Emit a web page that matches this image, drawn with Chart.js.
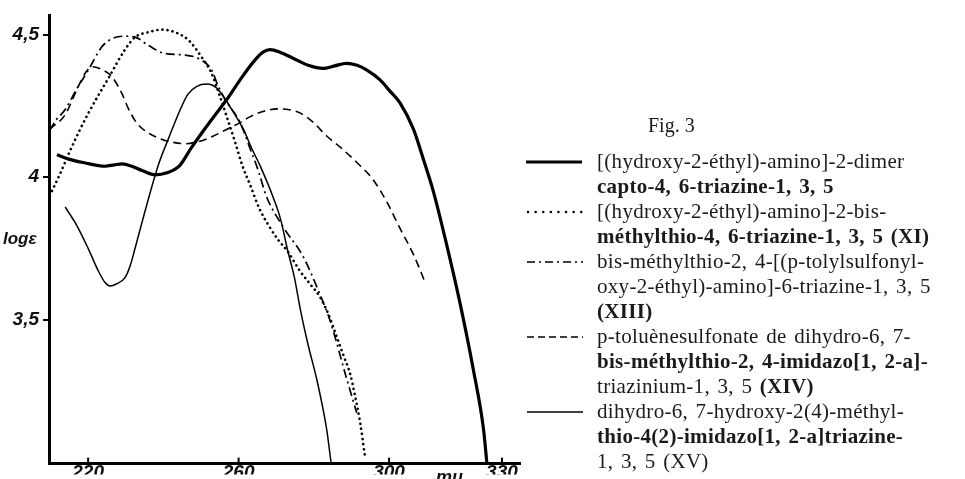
<!DOCTYPE html>
<html><head><meta charset="utf-8">
<script src="https://cdn.jsdelivr.net/npm/chart.js@4.4.1/dist/chart.umd.min.js"></script>
<style>
html,body{margin:0;padding:0;background:#fff;overflow:hidden;width:965px;height:479px;}
#wrap{position:relative;width:965px;height:479px;overflow:hidden;}
#c{position:absolute;left:0;top:0;}
.ax{position:absolute;font-family:"Liberation Sans",Arial,sans-serif;font-style:italic;font-weight:bold;color:#111;white-space:nowrap;}
.leg{position:absolute;left:597px;top:149px;font-family:"Liberation Serif","Times New Roman",serif;font-size:21px;line-height:25px;color:#1a1a1a;white-space:nowrap;letter-spacing:0.3px;word-spacing:2px;}
.leg div{height:25px;}
.b{font-weight:bold;}
#fig{position:absolute;left:648px;top:114px;font-family:"Liberation Serif",serif;font-size:20px;color:#1a1a1a;}
#samples{position:absolute;left:0;top:0;}
</style></head>
<body><div id="wrap">
<canvas id="c" width="965" height="479"></canvas>
<div class="ax" style="left:3px;top:229px;font-size:17px;">logε</div>
<div class="ax" style="left:436px;top:467px;font-size:18px;">mμ</div>
<div id="fig">Fig. 3</div>
<svg id="samples" width="965" height="479">
  <line x1="526" y1="162" x2="582" y2="162" stroke="#000" stroke-width="3.2"/>
  <line x1="528" y1="212" x2="582" y2="212" stroke="#000" stroke-width="2.4" stroke-dasharray="0.1 7.5" stroke-linecap="round"/>
  <line x1="527" y1="262" x2="583" y2="262" stroke="#000" stroke-width="1.6" stroke-dasharray="8 4 2 4"/>
  <line x1="527" y1="337" x2="583" y2="337" stroke="#000" stroke-width="1.5" stroke-dasharray="7 4"/>
  <line x1="527" y1="412" x2="583" y2="412" stroke="#000" stroke-width="1.4"/>
</svg>
<div class="leg">
  <div>[(hydroxy-2-éthyl)-amino]-2-dimer</div>
  <div class="b">capto-4, 6-triazine-1, 3, 5</div>
  <div>[(hydroxy-2-éthyl)-amino]-2-bis-</div>
  <div class="b">méthylthio-4, 6-triazine-1, 3, 5 (XI)</div>
  <div>bis-méthylthio-2, 4-[(p-tolylsulfonyl-</div>
  <div>oxy-2-éthyl)-amino]-6-triazine-1, 3, 5</div>
  <div class="b">(XIII)</div>
  <div>p-toluènesulfonate de dihydro-6, 7-</div>
  <div class="b">bis-méthylthio-2, 4-imidazo[1, 2-a]-</div>
  <div>triazinium-1, 3, 5 <span class="b">(XIV)</span></div>
  <div>dihydro-6, 7-hydroxy-2(4)-méthyl-</div>
  <div class="b">thio-4(2)-imidazo[1, 2-a]triazine-</div>
  <div>1, 3, 5 (XV)</div>
</div>
</div>
<script>
// Axis tick values and labels
const xTickValues = [220, 260, 300, 330];
const xTickLabels = ['220', '260', '300', '330'];
const yTickValues = [3.5, 4, 4.5];
const yTickLabels = ['3,5', '4', '4,5'];

// Series 1: [(hydroxy-2-éthyl)-amino]-2-dimercapto-4,6-triazine-1,3,5 (thick solid)
const wlDimercapto = [211.7, 214.8, 219, 224.5, 227, 229, 231.2, 234.5, 237.8, 241, 244.2, 247.5, 250.5, 253.3, 256.8, 260.4, 264, 266.5, 268.4, 271, 274.6, 278.5, 282.5, 285.5, 288.7, 291.5, 294, 297.6, 300, 302.9, 306.5, 309.1, 311.8, 315.3, 318.9, 322.4, 325.1, 326];
const logDimercapto = [4.078, 4.063, 4.05, 4.038, 4.043, 4.046, 4.040, 4.022, 4.008, 4.015, 4.038, 4.104, 4.16, 4.21, 4.271, 4.341, 4.405, 4.438, 4.447, 4.438, 4.416, 4.392, 4.381, 4.39, 4.399, 4.392, 4.376, 4.341, 4.305, 4.26, 4.167, 4.063, 3.948, 3.763, 3.555, 3.324, 3.116, 2.996];

// Series 2: (XI) dotted
const wlXI = [209.8, 212.5, 215.6, 220.1, 225.4, 229.8, 232.5, 236.0, 239.6, 243.1, 246.7, 250.1, 252.8, 254.6, 256.8, 259.1, 261.0, 263.1, 265.5, 268.0, 270.5, 273.0, 276.3, 279.0, 281.7, 284.0, 286.1, 288.0, 289.6, 291.0, 292.3, 293.6];
const logXI = [3.935, 4.01, 4.104, 4.225, 4.347, 4.447, 4.491, 4.508, 4.517, 4.508, 4.48, 4.422, 4.364, 4.3, 4.214, 4.121, 4.04, 3.971, 3.89, 3.83, 3.78, 3.74, 3.671, 3.625, 3.578, 3.515, 3.439, 3.37, 3.312, 3.23, 3.139, 3.02];

// Series 3: (XIII) dash-dot
const wlXIII = [209.7, 211.5, 213.9, 217, 220.1, 223.6, 226.3, 229.8, 232.5, 236.0, 240.5, 245.8, 250.2, 252.8, 254.6, 256.4, 260.4, 263.1, 265.3, 267.3, 271.8, 277.2, 281.6, 284.3, 288.8, 291.4];
const logXIII = [4.162, 4.2, 4.237, 4.31, 4.376, 4.456, 4.485, 4.494, 4.491, 4.462, 4.433, 4.428, 4.41, 4.376, 4.318, 4.272, 4.191, 4.098, 4.02, 3.935, 3.826, 3.72, 3.589, 3.497, 3.289, 3.173];

// Series 4: (XIV) dashed
const wlXIV = [209.7, 213.9, 217.4, 219.5, 221.0, 223.5, 226.3, 228.9, 230.7, 232.9, 236.0, 239.5, 242.5, 245.8, 249.5, 253.3, 256.8, 260.4, 263.1, 266.5, 270.2, 273.5, 276.3, 280.0, 283.4, 287.0, 291.5, 295.8, 299.5, 302.9, 306.5, 309.6];
const logXIV = [4.167, 4.219, 4.318, 4.37, 4.387, 4.378, 4.352, 4.295, 4.24, 4.19, 4.155, 4.133, 4.122, 4.117, 4.125, 4.144, 4.167, 4.191, 4.212, 4.23, 4.239, 4.236, 4.225, 4.19, 4.144, 4.105, 4.05, 3.99, 3.91, 3.82, 3.728, 3.63];

// Series 5: (XV) thin solid
const wlXV = [213.9, 217, 220, 222.7, 224.5, 225.8, 227.5, 229.8, 231.2, 232.5, 235.1, 238.6, 241.3, 244.5, 246.5, 248.9, 251.5, 254.2, 256.8, 258.5, 261.3, 263.5, 265.7, 269.3, 271.2, 273.0, 274.8, 276.5, 278.5, 280.8, 283.4, 284.6];
const logXV = [3.895, 3.83, 3.75, 3.671, 3.63, 3.618, 3.625, 3.647, 3.69, 3.751, 3.879, 4.04, 4.133, 4.237, 4.29, 4.318, 4.326, 4.312, 4.266, 4.23, 4.167, 4.1, 4.04, 3.925, 3.85, 3.745, 3.65, 3.53, 3.41, 3.289, 3.116, 2.996];

const pts = (xs, ys) => xs.map((x, i) => ({x: x, y: ys[i]}));
const base = {borderColor: '#000', backgroundColor: '#000', pointRadius: 0, fill: false, cubicInterpolationMode: 'monotone', borderJoinStyle: 'round'};

const inwardTicks = {
  id: 'inwardTicks',
  afterDraw(chart) {
    const {ctx, scales: {x, y}} = chart;
    ctx.save();
    ctx.strokeStyle = '#000';
    ctx.lineWidth = 2;
    xTickValues.forEach(v => {
      const px = x.getPixelForValue(v);
      ctx.beginPath(); ctx.moveTo(px, y.bottom); ctx.lineTo(px, y.bottom - 6); ctx.stroke();
    });
    ctx.restore();
  }
};

new Chart(document.getElementById('c').getContext('2d'), {
  type: 'line',
  data: {datasets: [
    Object.assign({}, base, {label: 'dimercapto', data: pts(wlDimercapto, logDimercapto), borderWidth: 3.2}),
    Object.assign({}, base, {label: 'XI', data: pts(wlXI, logXI), borderWidth: 2.6, borderDash: [0.1, 5], borderCapStyle: 'round'}),
    Object.assign({}, base, {label: 'XIII', data: pts(wlXIII, logXIII), borderWidth: 1.7, borderDash: [9, 4, 2, 4]}),
    Object.assign({}, base, {label: 'XIV', data: pts(wlXIV, logXIV), borderWidth: 1.6, borderDash: [8, 5]}),
    Object.assign({}, base, {label: 'XV', data: pts(wlXV, logXV), borderWidth: 1.5})
  ]},
  options: {
    responsive: false,
    animation: false,
    events: [],
    layout: {padding: {left: 0, right: 445, top: 15, bottom: 0}},
    plugins: {legend: {display: false}, tooltip: {enabled: false}},
    scales: {
      x: {
        type: 'linear', min: 209.6, max: 334.8,
        afterBuildTicks: s => { s.ticks = xTickValues.map(v => ({value: v})); },
        afterFit: s => { s.height = 11; },
        ticks: {autoSkip: false, maxRotation: 0, padding: -2, color: '#111',
          font: {family: 'Liberation Sans', size: 19, style: 'italic', weight: 'bold'},
          callback: v => xTickLabels[xTickValues.indexOf(v)]},
        grid: {display: true, drawOnChartArea: false, drawTicks: false},
        border: {display: true, color: '#000', width: 3}
      },
      y: {
        type: 'linear', min: 2.995, max: 4.567,
        afterBuildTicks: s => { s.ticks = yTickValues.map(v => ({value: v})); },
        afterFit: s => { s.width = 49; },
        ticks: {padding: 4, color: '#111',
          font: {family: 'Liberation Sans', size: 19, style: 'italic', weight: 'bold'},
          callback: v => yTickLabels[yTickValues.indexOf(v)]},
        grid: {display: true, drawOnChartArea: false, drawTicks: true, tickLength: 6, color: '#000', lineWidth: 2},
        border: {display: true, color: '#000', width: 3}
      }
    }
  },
  plugins: [inwardTicks]
});
</script>
</body></html>
